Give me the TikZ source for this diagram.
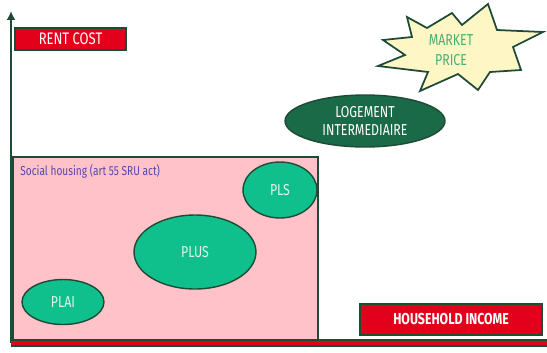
\documentclass[tikz,border=0pt]{standalone}
\usepackage{fontspec}
\setmainfont[FakeStretch=0.78]{Fira Sans}
\usetikzlibrary{arrows.meta,shapes.geometric}

\definecolor{axisgreen}{HTML}{1E4A36}
\definecolor{rentred}{HTML}{E2001A}
\definecolor{socialpink}{HTML}{FFC2C8}
\definecolor{bubblegreen}{HTML}{10C08C}
\definecolor{bubbletext}{HTML}{DDF5EA}
\definecolor{interdark}{HTML}{1B6A47}
\definecolor{starfill}{HTML}{FFF6C6}
\definecolor{startext}{HTML}{48AE78}
\definecolor{socialtext}{HTML}{5646B0}

\tikzset{
  axislabel/.style={draw=axisgreen, line width=0.9pt, fill=rentred, text=white,
    inner sep=0pt, font=\fontsize{9.5}{10}\selectfont},
  housing/.style={ellipse, draw=axisgreen, line width=0.8pt, fill=bubblegreen,
    text=bubbletext, inner sep=0pt, font=\fontsize{9}{10}\selectfont},
}

\begin{document}
\begin{tikzpicture}[x=0.02cm, y=-0.02cm]
		\useasboundingbox (0,0) rectangle (547,352);
		
		% social housing zone
		\draw[axisgreen, line width=1pt, fill=socialpink] (13,157) rectangle (318,341);
		\node[anchor=west, text=socialtext, inner sep=0pt, font=\fontsize{7.4}{8}\selectfont] (social) at (20,171) {Social housing (art 55 SRU act)};
		
		% axes
		\coordinate (origin) at (11,343);
		\coordinate (ytop) at (11,11);
		\coordinate (xend) at (547,343);
		\draw[axisgreen, line width=1.6pt, -{Latex[length=5pt,width=5pt]}] (origin) -- (ytop);
		\draw[axisgreen, line width=4.4pt] (origin) -- (xend);
		\draw[rentred, line width=2.6pt] (origin) -- (xend);
		
		\node[axislabel, minimum width=2.22cm, minimum height=0.44cm] (rent) at (70.5,39) {RENT COST};
		\node[axislabel, minimum width=3.64cm, minimum height=0.62cm, font=\fontsize{9}{10}\selectfont\bfseries] (income) at (451,319.5) {HOUSEHOLD INCOME};
		
		% housing products
		\node[housing, minimum width=1.64cm, minimum height=0.9cm] (plai) at (63,302) {PLAI};
		\node[housing, minimum width=2.44cm, minimum height=1.48cm] (plus) at (195,252) {PLUS};
		\node[housing, minimum width=1.48cm, minimum height=1.12cm] (pls) at (280,190) {PLS};
		\node[housing, fill=interdark, text=white, minimum width=3.2cm, minimum height=1.04cm, align=center] (inter) at (365,121) {LOGEMENT\\INTERMEDIAIRE};
		
		% market price burst
		\draw[axisgreen, line width=1pt, fill=starfill, line join=miter]
		(407,17) -- (427,28) -- (452,13) -- (462,25) -- (488,4) -- (497,30)
		-- (543,32) -- (513,47) -- (521,70) -- (490,72) -- (478,90) -- (458,74)
		-- (420,91) -- (428,72) -- (378,66) -- (405,55) -- (383,40) -- (412,37) -- cycle;
		\node[text=startext, align=center, inner sep=0pt, font=\fontsize{9}{11}\selectfont] (market) at (451,50) {MARKET\\PRICE};
\end{tikzpicture}
\end{document}
